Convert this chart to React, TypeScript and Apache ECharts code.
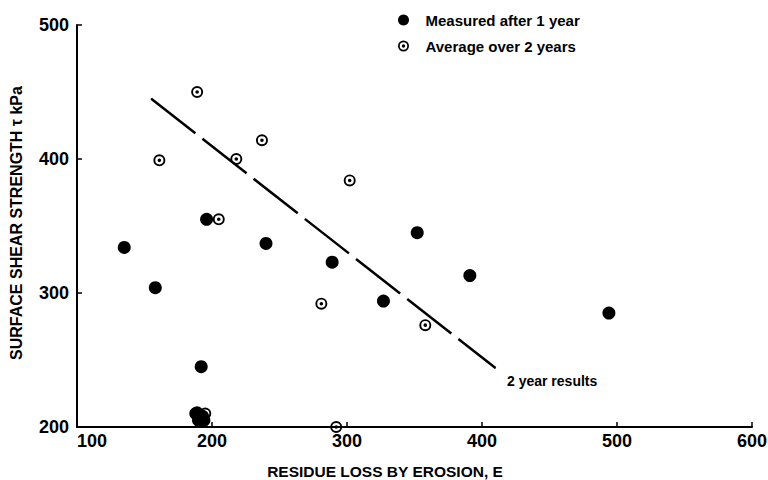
import React, { useEffect, useRef } from "react";
import * as echarts from "echarts";

// Data
const measuredX = [135, 158, 196, 240, 289, 327, 352, 391, 494, 192, 188, 193, 190, 194];
const measuredY = [334, 304, 355, 337, 323, 294, 345, 313, 285, 245, 210, 208, 205, 205];
const averageX = [189, 161, 218, 237, 302, 205, 281, 358, 292, 189, 195];
const averageY = [450, 399, 400, 414, 384, 355, 292, 276, 200, 211, 210];
const trendX = [155, 410];
const trendY = [445, 244];
const trendLabel = "2 year results";
const xTicks = [100, 200, 300, 400, 500, 600];
const yTicks = [200, 300, 400, 500];
const seriesNames = ["Measured after 1 year", "Average over 2 years"];
const xTitle = "RESIDUE LOSS BY EROSION, E";
const yTitle = "SURFACE SHEAR STRENGTH \u03c4 kPa";

const FONT = "'Liberation Sans', Arial, sans-serif";
const RING =
  "path://M0 -6A6 6 0 1 1 0 6A6 6 0 1 1 0 -6Z M0 -4.1A4.1 4.1 0 1 0 0 4.1A4.1 4.1 0 1 0 0 -4.1Z M0 -1.8A1.8 1.8 0 1 1 0 1.8A1.8 1.8 0 1 1 0 -1.8Z";

export default function App() {
  const ref = useRef<HTMLDivElement>(null);

  useEffect(() => {
    if (!ref.current) return;
    const chart = echarts.init(ref.current, undefined, { renderer: "svg" });

    const measured = measuredX.map((x, i) => [x, measuredY[i]]);
    const average = averageX.map((x, i) => [x, averageY[i]]);
    const trend: any[] = trendX.map((x, i) => [x, trendY[i]]);
    trend[trend.length - 1] = {
      value: trend[trend.length - 1],
      label: {
        show: true,
        formatter: trendLabel,
        position: "right",
        distance: 0,
        offset: [11, 13],
        color: "#000",
        fontFamily: FONT,
        fontWeight: "bold",
        fontSize: 14,
      },
    };

    const axisCommon = {
      axisLine: { show: true, lineStyle: { color: "#000", width: 2 } },
      axisTick: { show: true, inside: true, length: 5, lineStyle: { color: "#000", width: 1.5 } },
      splitLine: { show: false },
      minorTick: { show: false },
    };

    chart.setOption({
      animation: false,
      backgroundColor: "#fff",
      grid: { left: 77, right: 16, top: 25, bottom: 53, containLabel: false, outerBoundsMode: "none" },
      xAxis: {
        type: "value",
        min: xTicks[0],
        max: xTicks[xTicks.length - 1],
        interval: 100,
        ...axisCommon,
        axisLabel: {
          color: "#000",
          fontFamily: FONT,
          fontWeight: "bold",
          fontSize: 18,
          margin: 5,
          alignMinLabel: "left",
        },
      },
      yAxis: {
        type: "value",
        min: yTicks[0],
        max: yTicks[yTicks.length - 1],
        interval: 100,
        ...axisCommon,
        axisLabel: {
          color: "#000",
          fontFamily: FONT,
          fontWeight: "bold",
          fontSize: 18,
          margin: 8,
        },
      },
      legend: {
        show: true,
        orient: "vertical",
        left: 393,
        top: 7,
        itemWidth: 34,
        itemHeight: 11,
        itemGap: 10,
        symbolKeepAspect: true,
        data: seriesNames,
        textStyle: {
          color: "#000",
          fontFamily: FONT,
          fontWeight: "bold",
          fontSize: 15,
          lineHeight: 16,
        },
      },
      graphic: [
        {
          type: "text",
          x: 385,
          y: 471,
          style: {
            text: xTitle,
            fill: "#000",
            font: `bold 15.5px ${FONT}`,
            textAlign: "center",
            textVerticalAlign: "middle",
          },
        },
        {
          type: "text",
          x: 16,
          y: 223,
          rotation: Math.PI / 2,
          style: {
            text: yTitle,
            fill: "#000",
            font: `bold 16px ${FONT}`,
            textAlign: "center",
            textVerticalAlign: "middle",
          },
        },
      ],
      series: [
        {
          name: seriesNames[0],
          type: "scatter",
          data: measured,
          symbol: "circle",
          symbolSize: 13,
          itemStyle: { color: "#000", opacity: 1 },
          z: 3,
        },
        {
          name: seriesNames[1],
          type: "scatter",
          data: average,
          symbol: RING,
          symbolSize: 12,
          symbolKeepAspect: true,
          itemStyle: { color: "#000", opacity: 1 },
          z: 4,
        },
        {
          name: "trend",
          type: "line",
          data: trend,
          symbol: "circle",
          symbolSize: 1,
          showSymbol: true,
          itemStyle: { color: "#000" },
          lineStyle: { color: "#000", width: 2.5, type: [56, 9] },
          z: 2,
        },
      ],
    });

    return () => chart.dispose();
  }, []);

  return <div ref={ref} style={{ width: 768, height: 480, position: "absolute", left: 0, top: 0 }} />;
}
